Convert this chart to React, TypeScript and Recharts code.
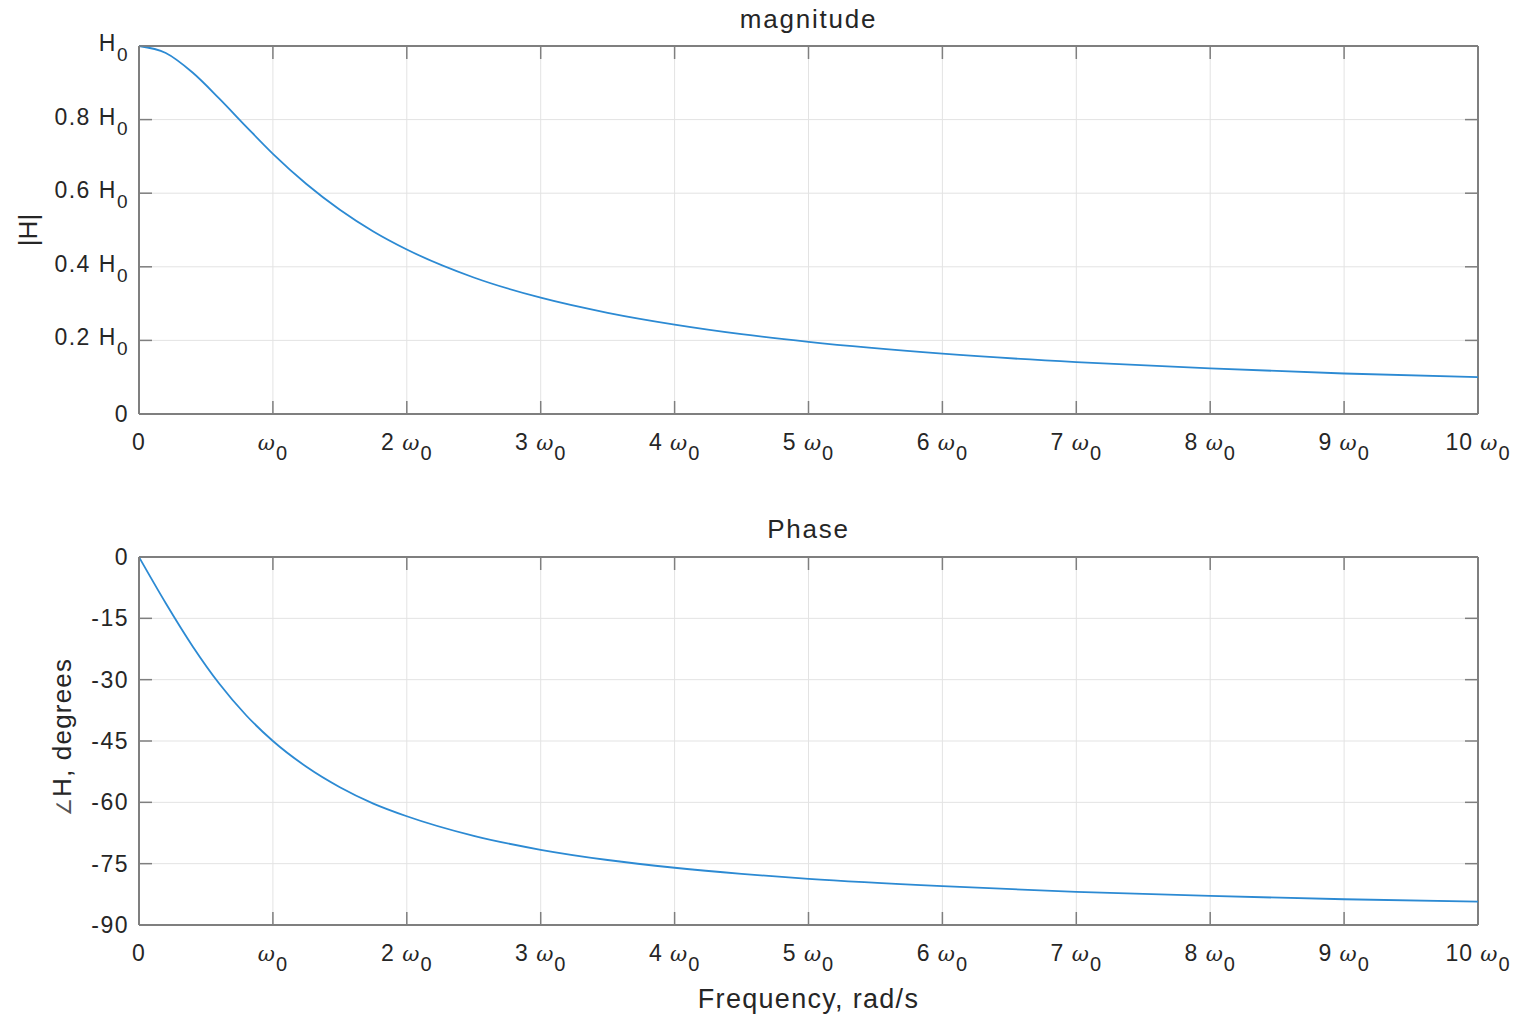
import React from "react"
import { LineChart, Line, XAxis, YAxis, CartesianGrid, ReferenceLine } from "recharts"

// frequency in multiples of ω0
const freq = [0, 0.2, 0.4, 0.6, 0.8, 1, 1.25, 1.5, 1.75, 2, 2.5, 3, 3.5, 4, 4.5, 5, 6, 7, 8, 9, 10]
const magnitude = [1, 0.981, 0.928, 0.857, 0.781, 0.707, 0.625, 0.555, 0.496, 0.447, 0.371, 0.316, 0.275, 0.243, 0.217, 0.196, 0.164, 0.141, 0.124, 0.11, 0.1]
const phase = [0, -11.3, -21.8, -31.0, -38.7, -45.0, -51.3, -56.3, -60.3, -63.4, -68.2, -71.6, -74.1, -76.0, -77.5, -78.7, -80.5, -81.9, -82.9, -83.7, -84.3]

const xTicks = [0, 1, 2, 3, 4, 5, 6, 7, 8, 9, 10]
const magTicks = [0, 0.2, 0.4, 0.6, 0.8, 1]
const magTickLabels = ["0", "0.2 H", "0.4 H", "0.6 H", "0.8 H", "H"]
const phaseTicks = [-90, -75, -60, -45, -30, -15, 0]

const magData = freq.map((w, i) => ({ w, v: magnitude[i] }))
const phaseData = freq.map((w, i) => ({ w, v: phase[i] }))

const FONT = "'Liberation Sans', Arial, Helvetica, sans-serif"
const TEXT = "#262626"
const FRAME = "#7f7f7f"
const GRID = "#e3e3e3"
const TICK_LEN = 13
// plot box size (chart 1520x505 minus margins/axes)
const PLOT_W = 1339
const PLOT_H = 368

function XTick(props: any) {
  const { x, y, payload } = props
  const v = payload.value
  return (
    <g>
      <line x1={x} x2={x} y1={y} y2={y - TICK_LEN} stroke={FRAME} strokeWidth={1.5} />
      <line x1={x} x2={x} y1={y - PLOT_H} y2={y - PLOT_H + TICK_LEN} stroke={FRAME} strokeWidth={1.5} />
      <text x={x} y={y + 36} textAnchor="middle" fontSize={23} letterSpacing={1} fill={TEXT} fontFamily={FONT}>
        {v === 0 ? (
          "0"
        ) : (
          <>
            {v === 1 ? "" : `${v} `}
            <tspan fontStyle="italic" fontFamily="'DejaVu Serif', serif" fontSize={21}>ω</tspan>
            <tspan dy={10} fontSize={20}>0</tspan>
          </>
        )}
      </text>
    </g>
  )
}

function makeYTick(labels?: (v: number) => string | null) {
  return function YTick(props: any) {
    const { x, y, payload } = props
    const v = payload.value
    const lbl = labels ? labels(v) : null
    return (
      <g>
        <line x1={x} x2={x + TICK_LEN} y1={y} y2={y} stroke={FRAME} strokeWidth={1.5} />
        <line x1={x + PLOT_W} x2={x + PLOT_W - TICK_LEN} y1={y} y2={y} stroke={FRAME} strokeWidth={1.5} />
        {lbl === null || lbl === "0" ? (
          <text x={x - 10} y={y + 8} textAnchor="end" fontSize={23} letterSpacing={1.5} fill={TEXT} fontFamily={FONT}>
            {lbl === null ? String(v) : "0"}
          </text>
        ) : (
          <text x={x - 10} y={y + 5} textAnchor="end" fontSize={23} letterSpacing={1.5} fill={TEXT} fontFamily={FONT}>
            {lbl}
            <tspan dy={10} fontSize={19}>0</tspan>
          </text>
        )}
      </g>
    )
  }
}

const MagTick = makeYTick((v) => magTickLabels[magTicks.indexOf(v)] ?? String(v))
const PhaseTick = makeYTick()

function Panel({ data, domain, ticks, tick }: { data: any[]; domain: [number, number]; ticks: number[]; tick: any }) {
  return (
    <LineChart width={1520} height={505} data={data} margin={{ top: 46, right: 42, left: 0, bottom: 0 }}>
      <CartesianGrid stroke={GRID} strokeWidth={1} />
      <XAxis
        dataKey="w"
        type="number"
        domain={[0, 10]}
        ticks={xTicks}
        interval={0}
        height={91}
        tickSize={0}
        tickMargin={0}
        tickLine={false}
        axisLine={{ stroke: FRAME, strokeWidth: 2 }}
        tick={XTick}
      />
      <YAxis
        type="number"
        domain={domain}
        ticks={ticks}
        interval={0}
        width={139}
        tickSize={0}
        tickMargin={0}
        tickLine={false}
        axisLine={{ stroke: FRAME, strokeWidth: 2 }}
        tick={tick}
      />
      <ReferenceLine y={domain[1]} stroke={FRAME} strokeWidth={2} />
      <ReferenceLine x={10} stroke={FRAME} strokeWidth={2} />
      <Line type="monotone" dataKey="v" stroke="#2c8ad3" strokeWidth={1.8} dot={false} isAnimationActive={false} />
    </LineChart>
  )
}

const labelStyle: React.CSSProperties = {
  position: "absolute",
  fontFamily: FONT,
  color: TEXT,
  whiteSpace: "nowrap",
  lineHeight: "30px",
}

export default function App() {
  return (
    <div style={{ position: "relative", width: 1520, height: 1016, background: "#fff", overflow: "hidden" }}>
      <style>{"body{margin:0}"}</style>
      <div style={{ position: "absolute", left: 0, top: 0 }}>
        <Panel data={magData} domain={[0, 1]} ticks={magTicks} tick={MagTick} />
      </div>
      <div style={{ position: "absolute", left: 0, top: 511 }}>
        <Panel data={phaseData} domain={[-90, 0]} ticks={phaseTicks} tick={PhaseTick} />
      </div>

      <div style={{ ...labelStyle, left: 139, width: 1339, top: 4, textAlign: "center", fontSize: 26, letterSpacing: 1.8 }}>
        magnitude
      </div>
      <div style={{ ...labelStyle, left: 139, width: 1339, top: 514, textAlign: "center", fontSize: 26, letterSpacing: 1.8 }}>
        Phase
      </div>
      <div style={{ ...labelStyle, left: 139, width: 1339, top: 984, textAlign: "center", fontSize: 27, letterSpacing: 1.3 }}>
        Frequency, rad/s
      </div>
      <div
        style={{
          ...labelStyle,
          left: 28,
          top: 230,
          fontSize: 26,
          transform: "translate(-50%, -50%) rotate(-90deg)",
        }}
      >
        |H|
      </div>
      <div
        style={{
          ...labelStyle,
          left: 63,
          top: 737,
          fontSize: 26,
          letterSpacing: 1.2,
          transform: "translate(-50%, -50%) rotate(-90deg)",
        }}
      >
        <span style={{ fontSize: 20, color: "#555" }}>∠</span>H, degrees
      </div>
    </div>
  )
}
